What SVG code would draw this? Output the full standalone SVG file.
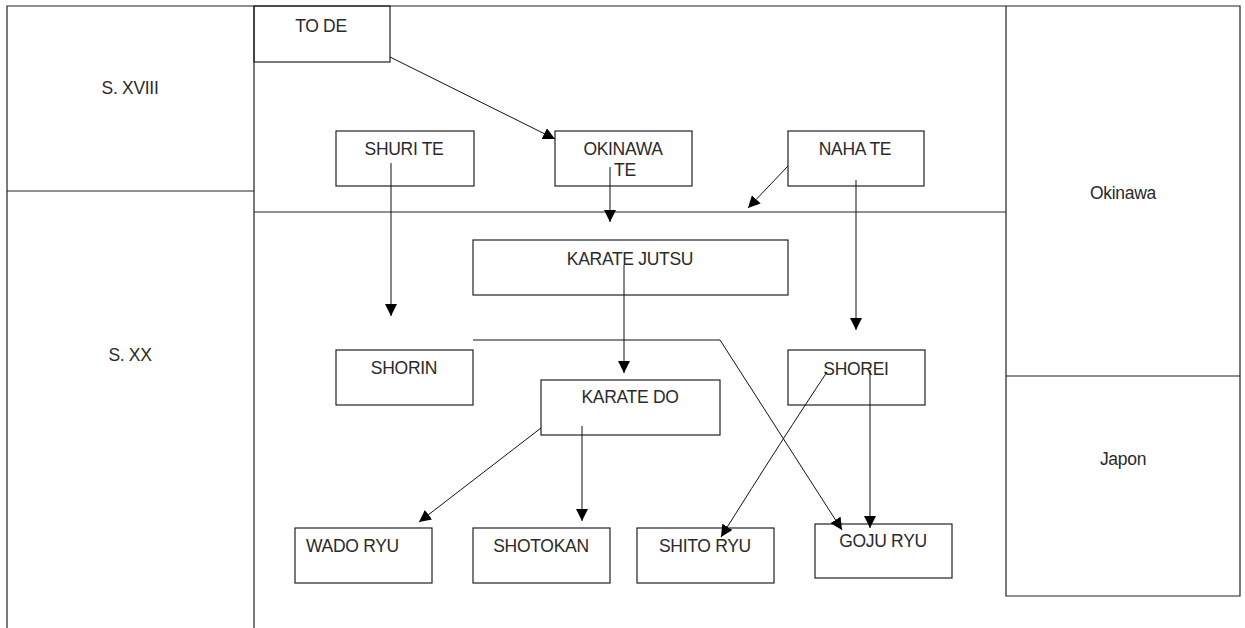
<svg xmlns="http://www.w3.org/2000/svg" width="1245" height="628" viewBox="0 0 1245 628">
<style>
.b{fill:none;stroke:#222;stroke-width:1.2}
.t{font-family:"Liberation Sans",Arial,sans-serif;font-size:17.5px;fill:#2a2a2a;letter-spacing:-0.3px}
.c{fill:none;stroke:#111;stroke-width:1}
</style>
<defs>
<marker id="a" viewBox="0 0 10 10" refX="10" refY="5" markerWidth="12" markerHeight="12" markerUnits="userSpaceOnUse" orient="auto">
<path d="M0,0 L10,5 L0,10 Z" fill="#000"/>
</marker>
</defs>
<rect width="1245" height="628" fill="#fff"/>
<g id="frame">
<path class="b" d="M7,628 V6 H1240 V596 H1006 V6 M7,191 H254 M254,6 V628 M254,212 H1006 M1006,376 H1240"/>
</g>
<g id="sxviii"><text class="t" x="130" y="94" text-anchor="middle">S. XVIII</text></g>
<g id="sxx"><text class="t" x="130" y="361" text-anchor="middle">S. XX</text></g>
<g id="okinawa"><text class="t" x="1123" y="199" text-anchor="middle">Okinawa</text></g>
<g id="japon"><text class="t" x="1123" y="465" text-anchor="middle">Japon</text></g>
<g id="tode"><rect class="b" x="254" y="6" width="136" height="56"/><text class="t" x="321" y="32" text-anchor="middle">TO DE</text></g>
<g id="shurite"><rect class="b" x="336" y="131" width="138" height="55"/><text class="t" x="404" y="155" text-anchor="middle">SHURI TE</text></g>
<g id="okinawate"><rect class="b" x="555" y="131" width="137" height="55"/><text class="t" x="623" y="155" text-anchor="middle">OKINAWA</text><text class="t" x="614" y="176">TE</text></g>
<g id="nahate"><rect class="b" x="788" y="131" width="136" height="55"/><text class="t" x="855" y="155" text-anchor="middle">NAHA TE</text></g>
<g id="karatejutsu"><rect class="b" x="473" y="240" width="315" height="55"/><text class="t" x="630" y="265" text-anchor="middle">KARATE JUTSU</text></g>
<g id="shorin"><rect class="b" x="336" y="350" width="137" height="55"/><text class="t" x="404" y="374" text-anchor="middle">SHORIN</text></g>
<g id="karatedo"><rect class="b" x="541" y="380" width="179" height="55"/><text class="t" x="630" y="403" text-anchor="middle">KARATE DO</text></g>
<g id="shorei"><rect class="b" x="788" y="350" width="137" height="55"/><text class="t" x="856" y="375" text-anchor="middle">SHOREI</text></g>
<g id="wadoryu"><rect class="b" x="295" y="528" width="137" height="55"/><text class="t" x="306" y="552">WADO RYU</text></g>
<g id="shotokan"><rect class="b" x="473" y="528" width="137" height="55"/><text class="t" x="541" y="552" text-anchor="middle">SHOTOKAN</text></g>
<g id="shitoryu"><rect class="b" x="637" y="528" width="137" height="55"/><text class="t" x="659" y="552">SHITO RYU</text></g>
<g id="gojuryu"><rect class="b" x="815" y="524" width="137" height="54"/><text class="t" x="883" y="547" text-anchor="middle">GOJU RYU</text></g>
<g id="connectors">
<line class="c" x1="390" y1="57" x2="555" y2="139" marker-end="url(#a)"/>
<line class="c" x1="610" y1="167" x2="610" y2="222" marker-end="url(#a)"/>
<line class="c" x1="788" y1="166" x2="748" y2="208" marker-end="url(#a)"/>
<line class="c" x1="391" y1="163" x2="391" y2="316" marker-end="url(#a)"/>
<line class="c" x1="856" y1="180" x2="856" y2="330" marker-end="url(#a)"/>
<line class="c" x1="624" y1="265" x2="624" y2="373" marker-end="url(#a)"/>
<polyline class="c" points="473,340 720,340 842,530" marker-end="url(#a)"/>
<path class="c" d="M827,372 Q785,435 721,537" marker-end="url(#a)"/>
<line class="c" x1="870" y1="370" x2="870" y2="528" marker-end="url(#a)"/>
<line class="c" x1="541" y1="428" x2="419" y2="522" marker-end="url(#a)"/>
<line class="c" x1="582" y1="426" x2="582" y2="521" marker-end="url(#a)"/>
</g>
</svg>
